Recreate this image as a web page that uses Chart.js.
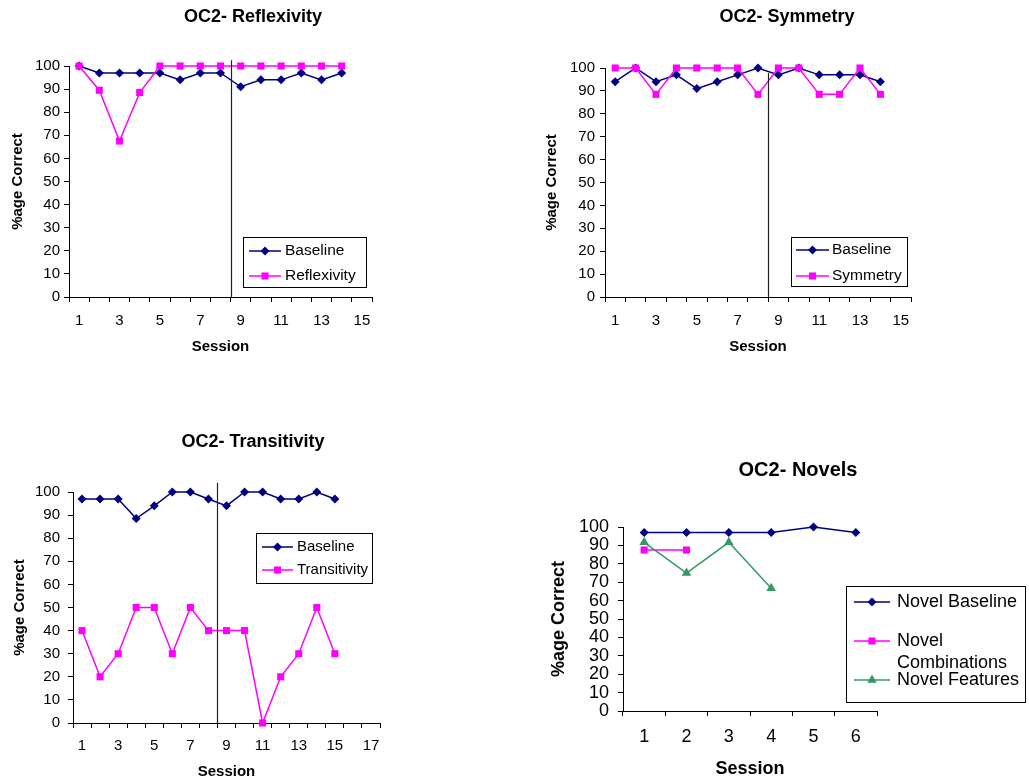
<!DOCTYPE html>
<html>
<head>
<meta charset="utf-8">
<script src="https://cdn.jsdelivr.net/npm/chart.js@4.4.0/dist/chart.umd.min.js"></script>
<style>
  html, body { margin: 0; padding: 0; background: #fff; overflow: hidden; }
  body { width: 1029px; height: 782px; position: relative; }
  canvas { position: absolute; }
</style>
</head>
<body>
<canvas id="reflexChart" width="506" height="370" style="left:0px;top:0px"></canvas>
<canvas id="symChart" width="506" height="370" style="left:534px;top:0px"></canvas>
<canvas id="transChart" width="506" height="357" style="left:0px;top:425px"></canvas>
<canvas id="novelChart" width="516" height="332" style="left:540px;top:450px"></canvas>
<script>
// session labels
const sessions15 = ['1','2','3','4','5','6','7','8','9','10','11','12','13','14','15'];
const sessions17 = ['1','2','3','4','5','6','7','8','9','10','11','12','13','14','15','16','17'];
const novelSessions = ['1','2','3','4','5','6'];

// OC2 - Reflexivity
const reflexBaseline = [100, 97, 97, 97, 97, 94, 97, 97, 91, 94, 94, 97, 94, 97];
const reflexivity = [100, 89.5, 67.5, 88.5, 100, 100, 100, 100, 100, 100, 100, 100, 100, 100];

// OC2 - Symmetry
const symBaseline = [94, 100, 94, 97, 91, 94, 97, 100, 97, 100, 97, 97, 97, 94];
const symmetry = [100, 100, 88.5, 100, 100, 100, 100, 88.5, 100, 100, 88.5, 88.5, 100, 88.5];

// OC2 - Transitivity
const transBaseline = [97, 97, 97, 88.5, 94, 100, 100, 97, 94, 100, 100, 97, 97, 100, 97];
const transitivity = [40, 20, 30, 50, 50, 30, 50, 40, 40, 40, 0, 20, 30, 50, 30];

// OC2 - Novels
const novelBaseline = [97, 97, 97, 97, 100, 97];
const novelCombinations = [87.5, 87.5];
const novelFeatures = [91.7, 75, 91.7, 66.7];

const FONT = "'Liberation Sans', Arial, sans-serif";
const NAVY = '#000080';
const MAGENTA = '#FF00FF';
const GREEN = '#339966';

Chart.defaults.font.family = FONT;
Chart.defaults.color = '#000';

function series(label, data, color, style, radius, order) {
  return {
    label: label, data: data,
    borderColor: color, backgroundColor: color,
    pointBackgroundColor: color, pointBorderColor: color,
    pointStyle: style, pointRadius: radius, pointBorderWidth: 0,
    borderWidth: 1.5, tension: 0, fill: false, order: order, clip: false
  };
}

function drawMarker(ctx, style, x, y, r, color) {
  ctx.fillStyle = color;
  ctx.beginPath();
  if (style === 'rectRot') {
    ctx.moveTo(x - r, y); ctx.lineTo(x, y - r); ctx.lineTo(x + r, y); ctx.lineTo(x, y + r);
  } else if (style === 'triangle') {
    ctx.moveTo(x, y - r); ctx.lineTo(x + 0.866 * r, y + 0.5 * r); ctx.lineTo(x - 0.866 * r, y + 0.5 * r);
  } else {
    const s = r * Math.SQRT1_2;
    ctx.rect(x - s, y - s, 2 * s, 2 * s);
  }
  ctx.closePath();
  ctx.fill();
}

// vertical phase-change line, placed in data units
const phaseLine = {
  id: 'phaseLine',
  afterDatasetsDraw(chart, args, opts) {
    if (!opts || opts.at === undefined) return;
    const ctx = chart.ctx;
    const x = Math.round(chart.scales.x.getPixelForValue(opts.at)) + 0.5;
    ctx.save();
    ctx.strokeStyle = '#222';
    ctx.lineWidth = 1.2;
    ctx.beginPath();
    ctx.moveTo(x, chart.scales.y.getPixelForValue(opts.from));
    ctx.lineTo(x, chart.scales.y.getPixelForValue(opts.to));
    ctx.stroke();
    ctx.restore();
  }
};

// excel style boxed legend
const boxLegend = {
  id: 'boxLegend',
  afterDatasetsDraw(chart, args, opts) {
    if (!opts || !opts.box) return;
    const ctx = chart.ctx;
    const b = opts.box;
    ctx.save();
    ctx.fillStyle = '#fff';
    ctx.fillRect(b.x, b.y, b.w, b.h);
    ctx.strokeStyle = '#000';
    ctx.lineWidth = 1;
    ctx.strokeRect(b.x + 0.5, b.y + 0.5, b.w, b.h);
    ctx.font = opts.fontSize + 'px ' + FONT;
    ctx.textBaseline = 'middle';
    chart.data.datasets.forEach(function(ds, i) {
      const y = b.y + opts.rows[i];
      ctx.strokeStyle = ds.borderColor;
      ctx.lineWidth = ds.borderWidth;
      ctx.beginPath();
      ctx.moveTo(b.x + opts.lineFrom, y);
      ctx.lineTo(b.x + opts.lineTo, y);
      ctx.stroke();
      drawMarker(ctx, ds.pointStyle, b.x + (opts.lineFrom + opts.lineTo) / 2, y, ds.pointRadius, ds.pointBackgroundColor);
      // wrap long labels
      const words = ds.label.split(' ');
      const lines = [];
      let cur = '';
      words.forEach(function(w) {
        const t = cur ? cur + ' ' + w : w;
        if (cur && ctx.measureText(t).width > opts.maxTextWidth) { lines.push(cur); cur = w; }
        else cur = t;
      });
      lines.push(cur);
      ctx.fillStyle = '#000';
      lines.forEach(function(t, k) {
        ctx.fillText(t, b.x + opts.textX, y + k * opts.lineHeight);
      });
    });
    ctx.restore();
  }
};

function sessionChart(id, labels, datasets, g) {
  return new Chart(document.getElementById(id), {
    type: 'line',
    data: { labels: labels, datasets: datasets },
    options: {
      responsive: false,
      animation: false,
      events: [],
      layout: { padding: 0 },
      plugins: {
        legend: { display: false },
        tooltip: { enabled: false },
        title: {
          display: true, text: g.title, color: '#000',
          font: { size: g.titleSize, weight: 'bold' },
          padding: { top: g.titleTop, bottom: g.titleBottom }
        },
        phaseLine: g.phase || {},
        boxLegend: g.legend
      },
      scales: {
        x: {
          type: 'category',
          offset: true,
          grid: { offset: true, drawOnChartArea: false, color: '#000', tickLength: 5 },
          border: { color: '#000', width: 1 },
          ticks: {
            autoSkip: false, maxRotation: 0, padding: g.xTickPad,
            font: { size: g.tickSize },
            callback: function(v, i) { return i % g.every === 0 ? this.getLabelForValue(v) : ''; }
          },
          title: {
            display: true, text: 'Session',
            font: { size: g.axisTitleSize, weight: 'bold' },
            padding: { top: 0, bottom: g.xTitleBottom }
          },
          afterFit: function(s) { s.height = g.xHeight; }
        },
        y: {
          min: 0, max: 100,
          grid: { drawOnChartArea: false, color: '#000', tickLength: 5 },
          border: { color: '#000', width: 1 },
          ticks: { stepSize: 10, autoSkip: false, padding: g.yTickPad, font: { size: g.tickSize } },
          title: {
            display: true, text: '%age Correct',
            font: { size: g.axisTitleSize, weight: 'bold' },
            padding: { top: g.yTitleLeft, bottom: 0 }
          },
          afterFit: function(s) { s.width = g.yWidth; }
        },
        pad: {
          type: 'linear', position: 'right', display: true,
          grid: { display: false }, border: { display: false }, ticks: { display: false },
          afterFit: function(s) { s.width = g.rightPad; }
        }
      }
    },
    plugins: [phaseLine, boxLegend]
  });
}

sessionChart('reflexChart', sessions15, [
  series('Baseline', reflexBaseline, NAVY, 'rectRot', 4.5, 2),
  series('Reflexivity', reflexivity, MAGENTA, 'rect', 5, 1)
], {
  title: 'OC2- Reflexivity', titleSize: 18, titleTop: 6.2, titleBottom: 38.2,
  tickSize: 15, axisTitleSize: 15, every: 2,
  yWidth: 69, yTickPad: 4, yTitleLeft: 9,
  xHeight: 73, xTickPad: 10, xTitleBottom: 14,
  rightPad: 134,
  phase: { at: 7.5, from: 0, to: 102.5 },
  legend: { box: { x: 243, y: 237, w: 123, h: 50 }, rows: [14, 39], lineFrom: 6, lineTo: 38, textX: 42, fontSize: 15.5, maxTextWidth: 200, lineHeight: 18 }
});

sessionChart('symChart', sessions15, [
  series('Baseline', symBaseline, NAVY, 'rectRot', 4.5, 2),
  series('Symmetry', symmetry, MAGENTA, 'rect', 5, 1)
], {
  title: 'OC2- Symmetry', titleSize: 18, titleTop: 6.2, titleBottom: 40.2,
  tickSize: 15, axisTitleSize: 15, every: 2,
  yWidth: 71, yTickPad: 5, yTitleLeft: 9,
  xHeight: 73, xTickPad: 10, xTitleBottom: 14,
  rightPad: 129,
  phase: { at: 7.5, from: 0, to: 97.8 },
  legend: { box: { x: 257, y: 237, w: 116, h: 49 }, rows: [13, 39], lineFrom: 5, lineTo: 38, textX: 41, fontSize: 15.5, maxTextWidth: 200, lineHeight: 18 }
});

sessionChart('transChart', sessions17, [
  series('Baseline', transBaseline, NAVY, 'rectRot', 4.5, 2),
  series('Transitivity', transitivity, MAGENTA, 'rect', 5, 1)
], {
  title: 'OC2- Transitivity', titleSize: 18, titleTop: 6.2, titleBottom: 39.2,
  tickSize: 15, axisTitleSize: 15, every: 2,
  yWidth: 73, yTickPad: 8, yTitleLeft: 10.5,
  xHeight: 59, xTickPad: 9, xTitleBottom: 1,
  rightPad: 126,
  phase: { at: 7.5, from: 0, to: 104 },
  legend: { box: { x: 256, y: 108, w: 116, h: 50 }, rows: [14, 37], lineFrom: 6, lineTo: 37, textX: 41, fontSize: 15, maxTextWidth: 200, lineHeight: 18 }
});

sessionChart('novelChart', novelSessions, [
  series('Novel Baseline', novelBaseline, NAVY, 'rectRot', 4.5, 3),
  series('Novel Combinations', novelCombinations, MAGENTA, 'rect', 5, 2),
  series('Novel Features', novelFeatures, GREEN, 'triangle', 5.5, 1)
], {
  title: 'OC2- Novels', titleSize: 20, titleTop: 8, titleBottom: 45,
  tickSize: 18, axisTitleSize: 18, every: 1,
  yWidth: 83, yTickPad: 9, yTitleLeft: 8.2,
  xHeight: 71, xTickPad: 10, xTitleBottom: 2.2,
  rightPad: 179,
  legend: { box: { x: 306, y: 136, w: 179, h: 116 }, rows: [16, 55, 94], lineFrom: 8, lineTo: 44, textX: 51, fontSize: 18, maxTextWidth: 126, lineHeight: 22 }
});
</script>
</body>
</html>
